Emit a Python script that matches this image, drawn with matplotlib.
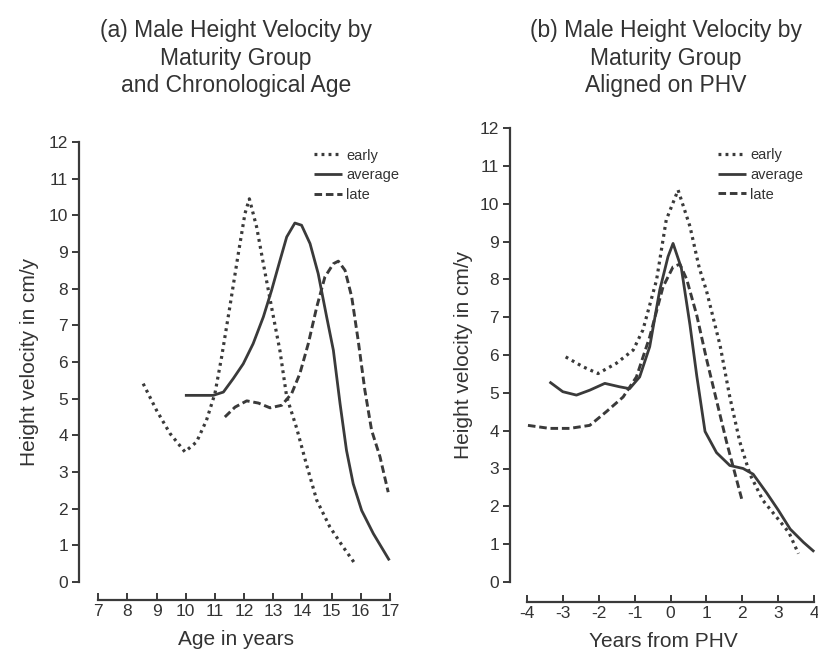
import matplotlib
matplotlib.use("Agg")
import matplotlib.pyplot as plt

plt.rcParams['font.family'] = ['Liberation Sans', 'DejaVu Sans']
plt.rcParams['axes.unicode_minus'] = False

# ---- Panel (a): by chronological age ----
a_early_x = [8.54, 9.0, 9.46, 9.97, 10.37, 10.71, 11.0, 11.23, 11.51, 11.8, 12.03, 12.18,
             12.43, 12.66, 12.94, 13.23, 13.46, 13.8, 14.14, 14.49, 14.94, 15.4, 15.8]
a_early_y = [5.41, 4.68, 4.05, 3.55, 3.82, 4.41, 5.14, 6.14, 7.5, 8.95, 10.05, 10.45,
             9.68, 8.68, 7.5, 6.3, 5.05, 4.2, 3.2, 2.23, 1.5, 0.95, 0.5]

a_avg_x = [9.97, 10.94, 11.29, 11.63, 11.97, 12.31, 12.66, 12.94, 13.23, 13.46, 13.74, 13.97,
           14.26, 14.54, 14.83, 15.06, 15.29, 15.51, 15.74, 16.03, 16.43, 16.98]
a_avg_y = [5.09, 5.09, 5.18, 5.55, 5.95, 6.5, 7.23, 7.95, 8.77, 9.41, 9.79, 9.73,
           9.23, 8.41, 7.23, 6.32, 4.86, 3.59, 2.68, 1.95, 1.32, 0.59]

a_late_x = [11.34, 11.69, 12.09, 12.49, 12.89, 13.29, 13.63, 13.91, 14.2, 14.49, 14.77, 15.06,
            15.23, 15.46, 15.69, 15.91, 16.14, 16.37, 16.66, 16.94]
a_late_y = [4.5, 4.77, 4.94, 4.88, 4.75, 4.82, 5.14, 5.68, 6.5, 7.5, 8.32, 8.68,
            8.75, 8.5, 7.77, 6.59, 5.23, 4.14, 3.41, 2.45]

# ---- Panel (b): aligned on PHV ----
b_early_x = [-2.92, -2.44, -2.02, -1.51, -1.04, -0.77, -0.39, -0.12, 0.21, 0.54, 0.8, 1.0,
             1.38, 1.65, 1.93, 2.21, 2.57, 3.05, 3.3, 3.56]
b_early_y = [5.95, 5.69, 5.51, 5.78, 6.13, 6.66, 7.98, 9.57, 10.36, 9.4, 8.3, 7.7,
             6.25, 4.89, 3.7, 2.85, 2.16, 1.6, 1.3, 0.75]

b_avg_x = [-3.37, -3.0, -2.62, -2.25, -1.83, -1.42, -1.14, -0.86, -0.58, -0.3, -0.07, 0.07,
           0.3, 0.54, 0.73, 0.96, 1.28, 1.65, 2.02, 2.3, 2.68, 3.0, 3.33, 3.7, 4.0]
b_avg_y = [5.29, 5.03, 4.94, 5.07, 5.25, 5.16, 5.11, 5.42, 6.22, 7.72, 8.6, 8.95,
           8.3, 6.8, 5.45, 3.98, 3.42, 3.08, 3.0, 2.85, 2.35, 1.9, 1.4, 1.05, 0.8]

b_late_x = [-3.97, -3.37, -2.81, -2.25, -1.79, -1.32, -0.95, -0.58, -0.21, 0.07, 0.26, 0.45,
            0.73, 1.0, 1.28, 1.56, 1.84, 1.98]
b_late_y = [4.14, 4.06, 4.06, 4.14, 4.5, 4.89, 5.42, 6.48, 7.8, 8.33, 8.4, 8.0,
            7.05, 5.9, 4.8, 3.7, 2.7, 2.2]

labels = ["early", "average", "late"]
a_ticks = list(range(7, 18))
b_ticks = list(range(-4, 5))
y_ticks = list(range(0, 13))

W, H = 818, 663
fig = plt.figure(figsize=(W / 100, H / 100), dpi=100)

col = '#3a3a3a'
tcol = '#333333'
styles = [dict(linestyle=(0, (0.9, 1.3)), lw=2.3),
          dict(linestyle='-', lw=2.0),
          dict(linestyle=(0, (2.6, 1.3)), lw=2.1)]


def setup(ax, xlim, xticks, xlabel, xout, ylabpad):
    ax.set_xlim(*xlim)
    ax.set_ylim(0, 12)
    for s in ['top', 'right']:
        ax.spines[s].set_visible(False)
    ax.spines['left'].set_bounds(0, 12)
    ax.spines['bottom'].set_bounds(xticks[0], xticks[-1])
    ax.spines['bottom'].set_position(('outward', xout))
    for s in ['left', 'bottom']:
        ax.spines[s].set_color(col)
        ax.spines[s].set_linewidth(1.6)
    ax.set_xticks(xticks)
    ax.set_yticks(y_ticks)
    ax.tick_params(axis='y', direction='out', length=5, width=1.4, color=col,
                   labelsize=12.5, labelcolor=tcol, pad=3)
    ax.tick_params(axis='x', direction='in', length=5, width=1.4, color=col,
                   labelsize=12.5, labelcolor=tcol, pad=3)
    ax.set_xlabel(xlabel, fontsize=15, color=tcol, labelpad=8)
    ax.set_ylabel("Height velocity in cm/y", fontsize=15, color=tcol, labelpad=ylabpad)


def draw(ax, xs_list, ys_list):
    for xs, ys, st, lab in zip(xs_list, ys_list, styles, labels):
        ax.plot(xs, ys, color=col, label=lab, clip_on=False,
                solid_capstyle='butt', solid_joinstyle='round', **st)


# panel a
ax1 = fig.add_axes([79 / W, 1 - 582 / H, (392 - 79) / W, (582 - 142) / H])
draw(ax1, [a_early_x, a_avg_x, a_late_x], [a_early_y, a_avg_y, a_late_y])
setup(ax1, (6.34, 17.07), a_ticks, "Age in years", 13, 7)
leg1 = ax1.legend(loc='upper left', bbox_to_anchor=(0.752, 0.985), frameon=False, fontsize=10.5,
                  handlelength=1.9, handletextpad=0.3, labelspacing=0.38, borderaxespad=0,
                  borderpad=0)
for t in leg1.get_texts():
    t.set_color(tcol)

# panel b
ax2 = fig.add_axes([510 / W, 1 - 582 / H, (816 - 510) / W, (582 - 128) / H])
draw(ax2, [b_early_x, b_avg_x, b_late_x], [b_early_y, b_avg_y, b_late_y])
setup(ax2, (-4.47, 4.05), b_ticks, "Years from PHV", 14.5, 5)
leg2 = ax2.legend(loc='upper left', bbox_to_anchor=(0.68, 0.955), frameon=False, fontsize=10.5,
                  handlelength=1.9, handletextpad=0.3, labelspacing=0.38, borderaxespad=0,
                  borderpad=0)
for t in leg2.get_texts():
    t.set_color(tcol)

fig.text(236 / W, 1 - 19 / H, "(a) Male Height Velocity by\nMaturity Group\nand Chronological Age",
         ha='center', va='top', fontsize=16.5, color=tcol, linespacing=1.25, multialignment='center')
fig.text(666 / W, 1 - 19 / H, "(b) Male Height Velocity by\nMaturity Group\nAligned on PHV",
         ha='center', va='top', fontsize=16.5, color=tcol, linespacing=1.25, multialignment='center')

fig.savefig("out.png", dpi=100)
